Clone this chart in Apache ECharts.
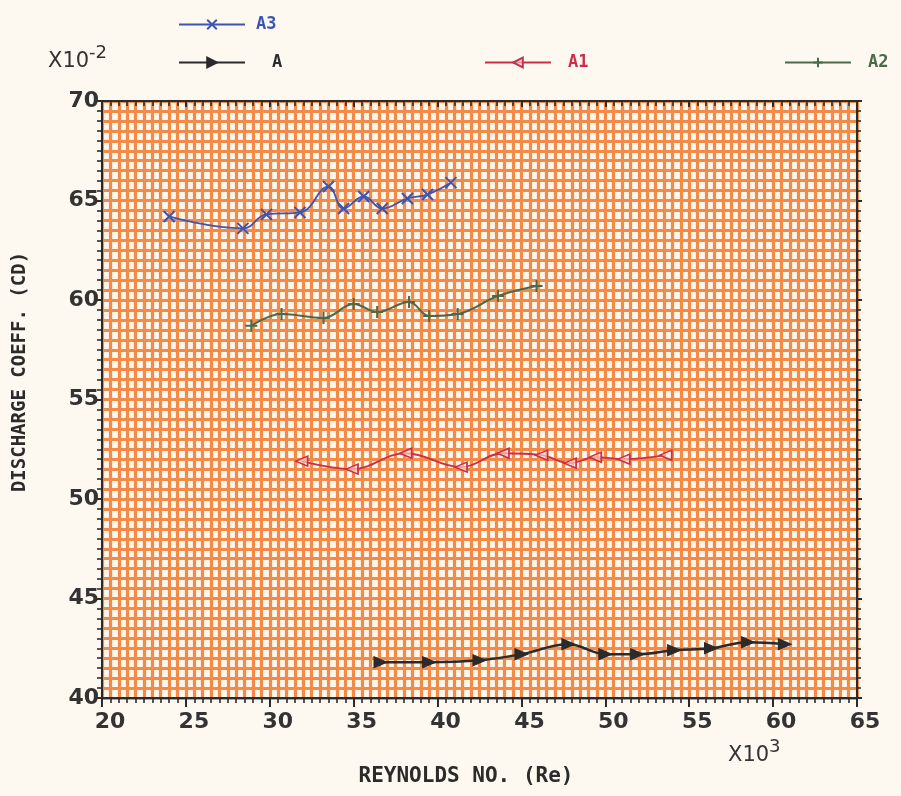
<!DOCTYPE html>
<html>
<head>
<meta charset="utf-8">
<script src="https://cdn.jsdelivr.net/npm/echarts@6/dist/echarts.min.js"></script>
<style>
  html, body { margin: 0; padding: 0; background: #fdf9f0; }
  #chart { width: 901px; height: 796px; }
</style>
</head>
<body>
<div id="chart"></div>
<script>
// Reynolds number (x1000) and discharge coefficient (x0.01)
const reA3 = [24.0, 28.4, 29.8, 31.8, 33.5, 34.4, 35.6, 36.7, 38.2, 39.4, 40.8];
const cdA3 = [64.2, 63.6, 64.3, 64.4, 65.7, 64.6, 65.2, 64.6, 65.1, 65.3, 65.9];

const reA2 = [28.9, 30.7, 33.2, 35.0, 36.4, 38.3, 39.5, 41.2, 43.6, 45.9];
const cdA2 = [58.7, 59.3, 59.1, 59.8, 59.4, 59.9, 59.2, 59.3, 60.2, 60.7];

const reA1 = [31.9, 34.9, 38.1, 41.4, 43.9, 46.2, 47.9, 49.4, 51.1, 53.6];
const cdA1 = [51.9, 51.5, 52.3, 51.6, 52.3, 52.2, 51.8, 52.1, 52.0, 52.2];

const reA = [36.6, 39.5, 42.5, 45.0, 47.8, 50.0, 51.9, 54.1, 56.3, 58.5, 60.7];
const cdA = [41.8, 41.8, 41.9, 42.2, 42.7, 42.2, 42.2, 42.4, 42.5, 42.8, 42.7];

const xTicks = [20, 25, 30, 35, 40, 45, 50, 55, 60, 65];
const yTicks = [40, 45, 50, 55, 60, 65, 70];

function pairs(xs, ys) {
  return xs.map((x, i) => [x, ys[i]]);
}

let chartDom = document.getElementById('chart');
let myChart = echarts.init(chartDom);
let option;

const ink = '#2b2b2b';
const gridOrange = '#f28a4a';
const fontMain = 'DejaVu Sans';
const fontMono = 'DejaVu Sans Mono';

function legendAt(name, left, top, color, gap) {
  return {
    data: [name],
    left: left,
    top: top,
    padding: 0,
    itemWidth: 66,
    itemHeight: 12,
    itemGap: 0,
    selectedMode: false,
    textStyle: { color: color, fontFamily: fontMono, fontWeight: 'bold', fontSize: 17, padding: [0, 0, 0, gap] }
  };
}

const xBase = {
  type: 'value', min: 20, max: 65, interval: 5,
  axisLine: { show: true, lineStyle: { color: ink, width: 2 } },
  splitLine: { show: false }
};
const yBase = {
  type: 'value', min: 40, max: 70, interval: 5,
  axisLine: { show: true, lineStyle: { color: ink, width: 2 } },
  splitLine: { show: false }
};

option = {
  backgroundColor: '#fdf9f0',
  animation: false,
  legend: [
    legendAt('A3', 178, 16, '#3d55b0', 6),
    legendAt('A', 178, 54, ink, 22),
    legendAt('A1', 484, 54, '#c8304a', 12),
    legendAt('A2', 784, 54, '#4b6a4b', 12)
  ],
  grid: {
    left: 102, right: 44, top: 101, bottom: 98,
    show: true,
    backgroundColor: '#fff6ec',
    borderWidth: 0
  },
  xAxis: [
    Object.assign({}, xBase, {
      position: 'bottom',
      axisTick: { show: true, length: 9, lineStyle: { color: ink, width: 2 } },
      minorTick: { show: true, splitNumber: 10, length: 5, lineStyle: { color: ink, width: 1.6 } },
      splitLine: { show: true, lineStyle: { color: gridOrange, width: 3.2 } },
      minorSplitLine: { show: true, lineStyle: { color: gridOrange, width: 3.2 } },
      axisLabel: {
        margin: 13, fontSize: 22, color: '#333', fontFamily: fontMain, fontWeight: 'bold',
        padding: [0, 0, 0, 16],
        formatter: v => xTicks.includes(v) ? String(v) : ''
      }
    }),
    Object.assign({}, xBase, {
      position: 'top',
      axisTick: { show: true, inside: true, length: 6, lineStyle: { color: ink, width: 2 } },
      minorTick: { show: true, splitNumber: 10, length: 5, lineStyle: { color: ink, width: 1.6 } },
      axisLabel: { show: false }
    })
  ],
  yAxis: [
    Object.assign({}, yBase, {
      position: 'left',
      axisTick: { show: true, length: 7, lineStyle: { color: ink, width: 2 } },
      minorTick: { show: true, splitNumber: 10, length: 5, lineStyle: { color: ink, width: 1.6 } },
      splitLine: { show: true, lineStyle: { color: gridOrange, width: 3.2 } },
      minorSplitLine: { show: true, lineStyle: { color: gridOrange, width: 3.2 } },
      axisLabel: {
        margin: 3, fontSize: 22, color: '#333', fontFamily: fontMain, fontWeight: 'bold',
        padding: [0, 0, 14, 0],
        formatter: v => yTicks.includes(v) ? String(v) : ''
      }
    }),
    Object.assign({}, yBase, {
      position: 'right',
      axisTick: { show: true, length: 5, lineStyle: { color: ink, width: 2 } },
      minorTick: { show: true, splitNumber: 10, length: 4, lineStyle: { color: ink, width: 1.6 } },
      axisLabel: { show: false }
    })
  ],
  graphic: [
    {
      type: 'text', left: 48, top: 44,
      style: {
        text: '{b|X10}{s|-2}',
        rich: {
          b: { fontSize: 21, fontFamily: fontMain, fill: '#333', verticalAlign: 'bottom', lineHeight: 28 },
          s: { fontSize: 18, fontFamily: fontMain, fill: '#333', verticalAlign: 'top', lineHeight: 28 }
        }
      }
    },
    {
      type: 'text', left: 728, top: 738,
      style: {
        text: '{b|X10}{s|3}',
        rich: {
          b: { fontSize: 21, fontFamily: fontMain, fill: '#333', verticalAlign: 'bottom', lineHeight: 28 },
          s: { fontSize: 18, fontFamily: fontMain, fill: '#333', verticalAlign: 'top', lineHeight: 28 }
        }
      }
    },
    {
      type: 'text', x: 466, y: 777,
      style: {
        text: 'REYNOLDS NO. (Re)',
        fontFamily: fontMono, fontWeight: 'bold', fontSize: 21, fill: ink,
        align: 'center', verticalAlign: 'middle'
      }
    },
    {
      type: 'text', x: 20, y: 372, rotation: Math.PI / 2,
      style: {
        text: 'DISCHARGE COEFF. (CD)',
        fontFamily: fontMono, fontWeight: 'bold', fontSize: 19, fill: ink,
        align: 'center', verticalAlign: 'middle'
      }
    }
  ],
  series: [
    {
      name: 'A3', type: 'line', smooth: 0.45,
      data: pairs(reA3, cdA3),
      symbol: 'path://M0,0L10,10M10,0L0,10', symbolSize: 11,
      lineStyle: { color: '#3d55b0', width: 1.8 },
      itemStyle: { color: 'rgba(0,0,0,0)', borderColor: '#3d55b0', borderWidth: 2 }
    },
    {
      name: 'A', type: 'line', smooth: 0.4,
      data: pairs(reA, cdA),
      symbol: 'path://M0,0L12,5L0,10Z', symbolSize: [13, 11],
      lineStyle: { color: ink, width: 2.5 },
      itemStyle: { color: ink, borderColor: ink, borderWidth: 1 }
    },
    {
      name: 'A1', type: 'line', smooth: 0.4,
      data: pairs(reA1, cdA1),
      symbol: 'path://M12,0L0,5L12,10Z', symbolSize: [12, 10],
      lineStyle: { color: '#c8304a', width: 1.8 },
      itemStyle: { color: 'rgba(255,230,220,0.6)', borderColor: '#c8304a', borderWidth: 1.6 }
    },
    {
      name: 'A2', type: 'line', smooth: 0.4,
      data: pairs(reA2, cdA2),
      symbol: 'path://M5,0L5,10M0,5L10,5', symbolSize: 12,
      lineStyle: { color: '#4b6a4b', width: 2 },
      itemStyle: { color: 'rgba(0,0,0,0)', borderColor: '#4b6a4b', borderWidth: 2 }
    }
  ]
};

myChart.setOption(option);
</script>
</body>
</html>
